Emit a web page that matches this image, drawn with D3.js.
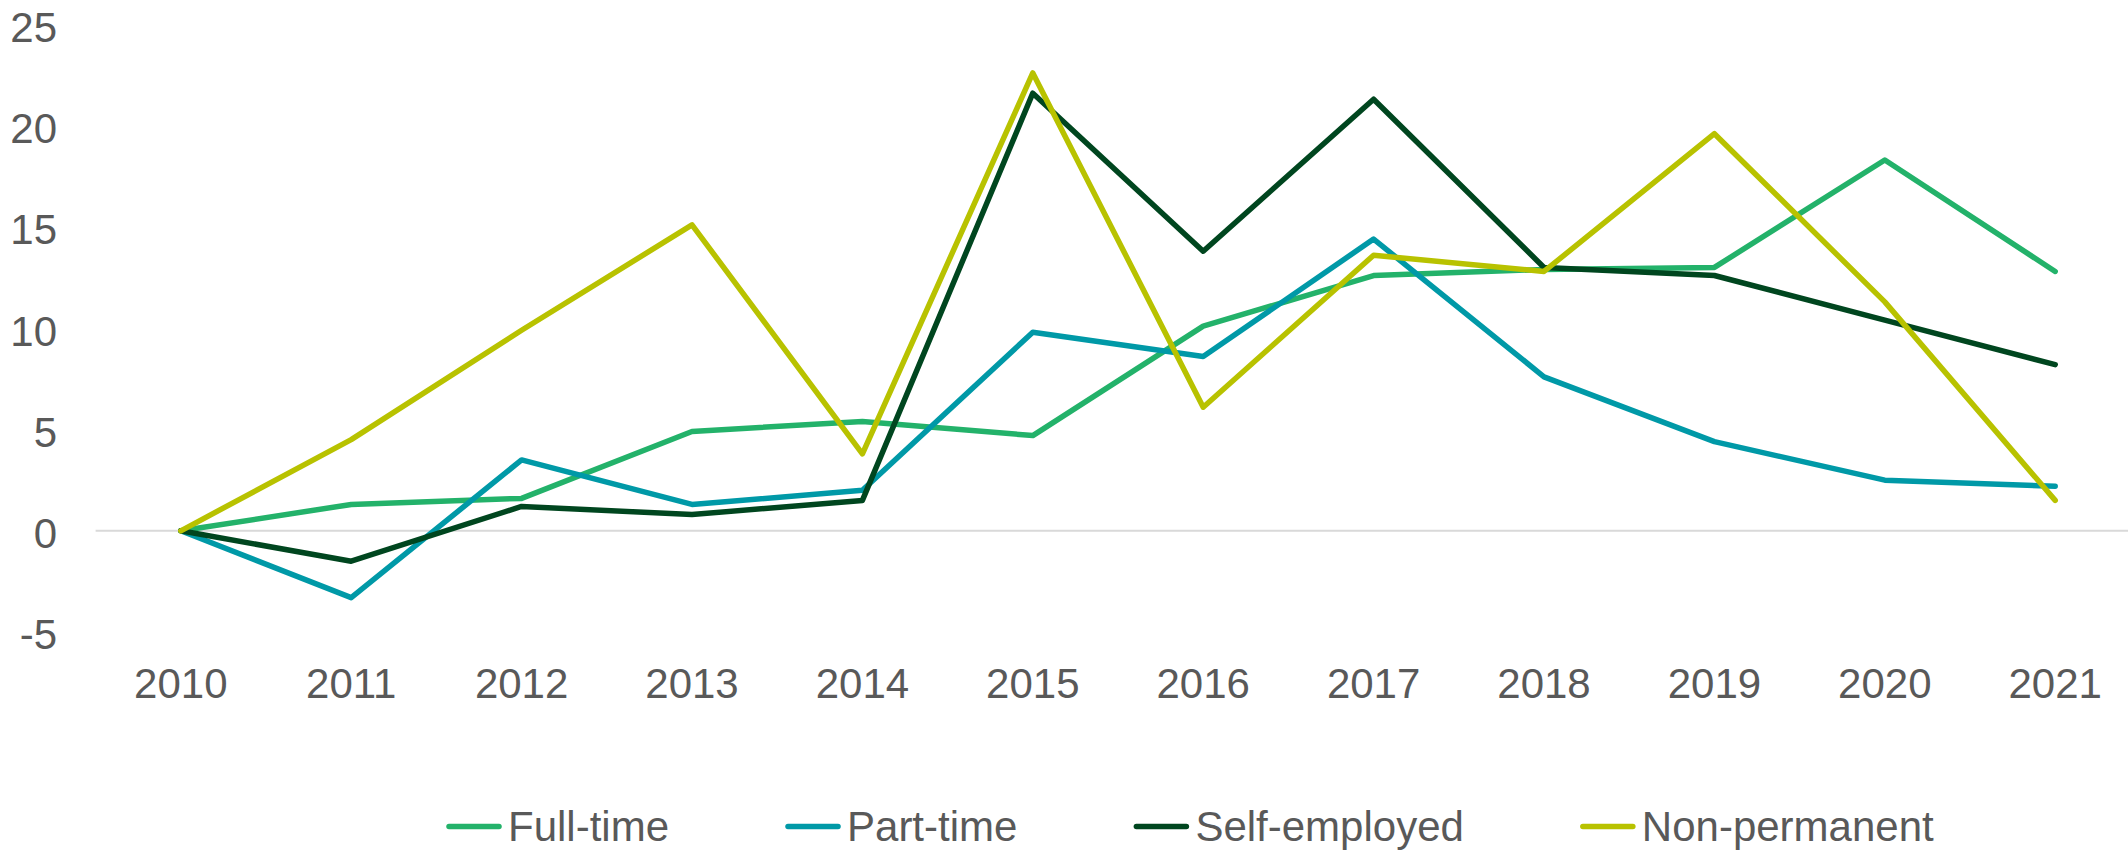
<!DOCTYPE html>
<html>
<head>
<meta charset="utf-8">
<script src="https://cdn.jsdelivr.net/npm/d3@7"></script>
<style>
  body { margin: 0; background: #fff; }
  svg { display: block; font-family: "Liberation Sans", Arial, sans-serif; }
</style>
</head>
<body>
<div id="chart"></div>
<script>
// Years on the category axis
const years = ["2010", "2011", "2012", "2013", "2014", "2015", "2016", "2017", "2018", "2019", "2020", "2021"];

// Series values
const fullTime     = [0, 1.3, 1.6, 4.9, 5.4, 4.7, 10.1, 12.6, 12.9, 13.0, 18.3, 12.8];
const partTime     = [0, -3.3, 3.5, 1.3, 2.0, 9.8, 8.6, 14.4, 7.6, 4.4, 2.5, 2.2];
const selfEmployed = [0, -1.5, 1.2, 0.8, 1.5, 21.6, 13.8, 21.3, 13.0, 12.6, 10.4, 8.2];
const nonPermanent = [0, 4.5, 9.9, 15.1, 3.8, 22.6, 6.1, 13.6, 12.8, 19.6, 11.3, 1.5];

const seriesNames  = ["Full-time", "Part-time", "Self-employed", "Non-permanent"];
const seriesColors = ["#23b26a", "#0099a7", "#00461f", "#b8c200"];
const yTicks = [-5, 0, 5, 10, 15, 20, 25];

const series = [fullTime, partTime, selfEmployed, nonPermanent].map((vals, i) => ({
  name: seriesNames[i],
  color: seriesColors[i],
  values: vals.map((v, j) => ({ year: years[j], value: v }))
}));

const W = 2128, H = 850;
const plot = { left: 95.6, right: 2140.4, top: 24.3, bottom: 632.1 };

const svg = d3.select("#chart").append("svg")
  .attr("width", W)
  .attr("height", H);

const x = d3.scaleBand()
  .domain(years)
  .range([plot.left, plot.right])
  .padding(0);

const y = d3.scaleLinear()
  .domain([-5, 25])
  .range([plot.bottom, plot.top]);

const cx = d => x(d) + x.bandwidth() / 2;

// zero line
svg.append("line")
  .attr("x1", plot.left)
  .attr("x2", W)
  .attr("y1", y(0))
  .attr("y2", y(0))
  .style("stroke", "#d9d9d9")
  .style("stroke-width", 2);

// y axis labels
const yAxis = svg.append("g")
  .attr("transform", `translate(${plot.left},0)`)
  .call(d3.axisLeft(y).tickValues(yTicks).tickSize(0).tickPadding(38.6).tickFormat(d => String(d)));
yAxis.select(".domain").remove();
yAxis.selectAll("text")
  .attr("dy", "0.4em")
  .style("font-size", "42px")
  .style("fill", "#595959")
  .style("font-family", "'Liberation Sans', Arial, sans-serif");

// x axis labels
const xAxis = svg.append("g")
  .attr("transform", `translate(0,${plot.bottom})`)
  .call(d3.axisBottom(x).tickSize(0).tickPadding(36.5));
xAxis.select(".domain").remove();
xAxis.selectAll("text")
  .style("font-size", "42px")
  .style("fill", "#595959")
  .style("font-family", "'Liberation Sans', Arial, sans-serif");

// lines
const line = d3.line()
  .x(d => cx(d.year))
  .y(d => y(d.value));

svg.selectAll(".series")
  .data(series)
  .enter()
  .append("path")
  .attr("class", "series")
  .attr("d", d => line(d.values))
  .style("fill", "none")
  .style("stroke", d => d.color)
  .style("stroke-width", 5.5)
  .style("stroke-linejoin", "round")
  .style("stroke-linecap", "round");

// legend
const legend = svg.append("g").attr("class", "legend");
let lx = 446;
const ly = 826.5;
series.forEach(s => {
  legend.append("line")
    .attr("x1", lx + 3)
    .attr("x2", lx + 53)
    .attr("y1", ly)
    .attr("y2", ly)
    .style("stroke", s.color)
    .style("stroke-width", 5.5)
    .style("stroke-linecap", "round");
  const t = legend.append("text")
    .attr("x", lx + 62)
    .attr("y", ly)
    .attr("dy", "0.35em")
    .style("font-size", "42px")
    .style("fill", "#595959")
    .text(s.name);
  lx += 62 + t.node().getComputedTextLength() + 116;
});
</script>
</body>
</html>
